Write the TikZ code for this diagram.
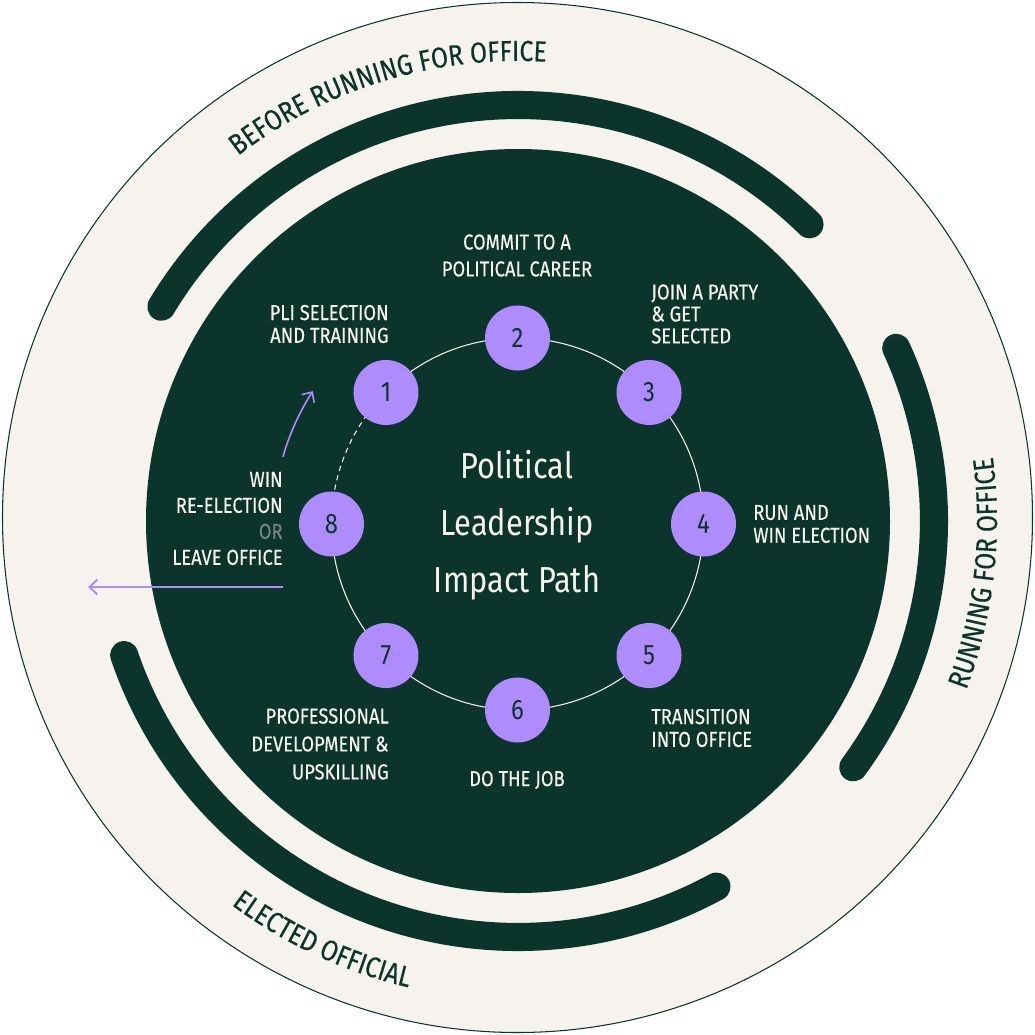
\documentclass[tikz,border=0pt]{standalone}
\usepackage{fontspec}
\setmainfont{Fira Sans}[FakeStretch=0.85]
\newfontfamily\lblfamily{Fira Sans}[FakeStretch=0.85, FakeBold=0.3]
\usetikzlibrary{arrows.meta, decorations.text}

\definecolor{pathgreen}{HTML}{0B352B}
\definecolor{pathcream}{HTML}{F6F3EE}
\definecolor{pathpurple}{HTML}{AF8CFE}
\definecolor{pathgrey}{HTML}{73867E}

\newcommand\lblsize[1]{\lblfamily\fontsize{12.3}{#1}\selectfont}
\newcommand\phasefont{\lblfamily\fontsize{16.5}{18}\selectfont}

\tikzset{
  stepdot/.style={
    circle, fill=pathpurple, minimum size=1.3cm, inner sep=0pt,
    text=pathgreen, font=\fontsize{16}{16}\selectfont
  },
  steplabel/.style={
    text=pathcream, inner sep=0pt, font=\lblsize{13}
  },
  titletext/.style={
    text=pathcream, align=center, inner sep=0pt,
    font=\fontsize{20.6}{32.4}\selectfont
  },
  phasearc/.style={
    draw=pathgreen, line width=16pt, line cap=round
  },
  ringline/.style={draw=pathcream, line width=0.6pt},
  exitarrow/.style={
    draw=pathpurple, line width=1.1pt,
    -{Straight Barb[length=4.5pt,width=8.5pt]}
  },
}

\begin{document}
\begin{tikzpicture}[x=0.02cm, y=0.02cm]
  \useasboundingbox (0,0) rectangle (1035,-1035);

  % Outer band and inner disk
  \fill[pathcream, draw=pathgreen, line width=0.6pt]
    (517.5,-517.5) circle[radius=515];
  \coordinate (hub) at (518,-521);
  \fill[pathgreen] (hub) circle[radius=372];

  % Phase arcs
  \draw[phasearc] ([shift={(149:416)}]hub)
    arc[start angle=149, end angle=45.5, radius=416];
  \draw[phasearc] ([shift={(24.6:416)}]hub)
    arc[start angle=24.6, end angle=-36.3, radius=416];
  \draw[phasearc] ([shift={(198.8:416)}]hub)
    arc[start angle=198.8, end angle=298.5, radius=416];

  % Phase names
  \path[decorate, decoration={text along path, text align=center,
      text color=pathgreen, text={|\phasefont|BEFORE RUNNING FOR OFFICE}}]
    ([shift={(150:460)}]hub) arc[start angle=150, end angle=64, radius=460];
  \path[decorate, decoration={text along path, text align=center,
      text color=pathgreen, text={|\phasefont|RUNNING FOR OFFICE}}]
    ([shift={(-45:479)}]hub) arc[start angle=-45, end angle=32, radius=479];
  \path[decorate, decoration={text along path, text align=center,
      text color=pathgreen, text={|\phasefont|ELECTED OFFICIAL}}]
    ([shift={(205:479)}]hub) arc[start angle=205, end angle=285, radius=479];

  % Steps on the ring
  \coordinate (ring) at (517.5,-524);
  \draw[ringline] ([shift={(135:186)}]ring)
    arc[start angle=135, end angle=-180, radius=186];
  \draw[ringline, dash pattern=on 3pt off 2.5pt] ([shift={(135:186)}]ring)
    arc[start angle=135, end angle=180, radius=186];
  \begin{scope}[shift={(ring)}]
    \foreach \n/\ang in {1/135,2/90,3/45,4/0,5/-45,6/-90,7/-135,8/180}
      \node[stepdot] (n\n) at (\ang:186) {\n};
    \coordinate (backstart) at (164:244);
  \end{scope}

  % Centre title
  \node[titletext] (title) at (517,-525) {Political\\Leadership\\Impact Path};

  % Step labels
  \node[steplabel, align=center, font=\lblsize{15.3}] (lbl2) at (517,-255.5)
    {COMMIT TO A\\POLITICAL CAREER};
  \node[steplabel, align=right, anchor=east] (lbl1) at (389,-324)
    {PLI SELECTION\\AND TRAINING};
  \node[steplabel, align=left, anchor=west, font=\lblsize{12.5}] (lbl3) at (651,-314)
    {JOIN A PARTY\\\& GET\\SELECTED};
  \node[steplabel, align=left, anchor=west] (lbl4) at (753,-524)
    {RUN AND\\WIN ELECTION};
  \node[steplabel, align=left, anchor=west] (lbl5) at (651,-728)
    {TRANSITION\\INTO OFFICE};
  \node[steplabel] (lbl6) at (517,-780) {DO THE JOB};
  \node[steplabel, align=right, anchor=east, font=\lblsize{15.9}] (lbl7) at (389,-744)
    {PROFESSIONAL\\DEVELOPMENT \&\\UPSKILLING};
  \node[steplabel, align=right, anchor=east, font=\lblsize{14.8}] (lbl8) at (283,-518.5)
    {WIN\\RE-ELECTION\\\textcolor{pathgrey}{OR}\\LEAVE OFFICE};

  % Way back to step 1, way out
  \draw[exitarrow, line width=0.9pt] (backstart)
    arc[start angle=164, end angle=147, radius=244];
  \coordinate (exitstart) at (283,-587);
  \coordinate (exitend) at (88,-587);
  \draw[exitarrow] (exitstart) -- (exitend);
\end{tikzpicture}
\end{document}
